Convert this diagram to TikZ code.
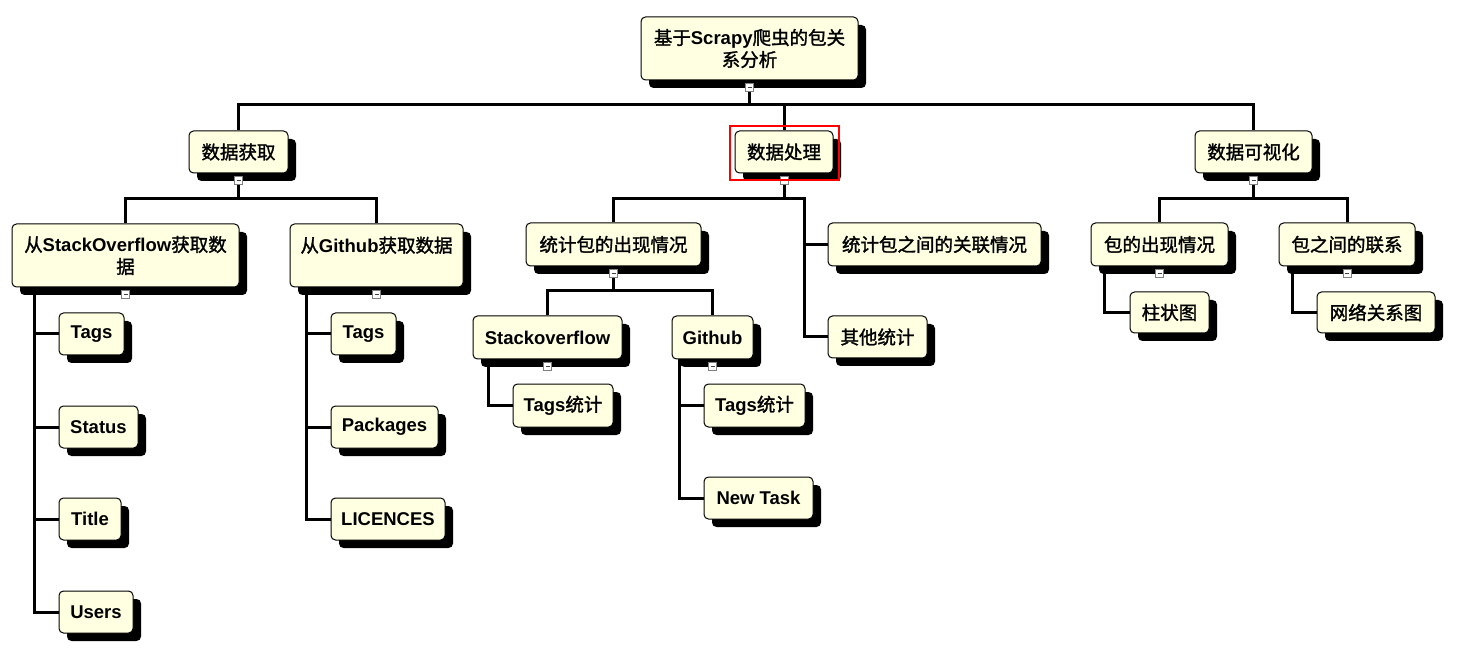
\documentclass[tikz,border=0pt]{standalone}
\usepackage{fontspec}
\setmainfont{Liberation Sans}
\newfontfamily\cjk{Noto Sans CJK SC}[FakeBold=1.5]
\usetikzlibrary{shadows}
\pgfdeclarelayer{bg}
\pgfsetlayers{bg,main}
\newcommand\zh[1]{{\cjk\mdseries #1}}
\definecolor{boxfill}{RGB}{255,255,225}
\tikzset{
  box/.style={draw=black, line width=1pt, fill=boxfill, rounded corners=4.5pt,
    inner sep=0pt, align=center, font=\fontsize{18.5}{22}\selectfont\bfseries,
    general shadow={fill=black, shadow xshift=8pt, shadow yshift=-8pt}},
  conn/.style={line width=3pt, draw=black},
  mk/.style={draw=gray, fill=white, line width=0.8pt, minimum size=8pt, inner sep=0pt,
    path picture={\draw[line width=0.9pt, black!75]
      ([xshift=2pt]path picture bounding box.west) -- ([xshift=-2pt]path picture bounding box.east);}},
  sel/.style={draw=red, line width=1.3pt}
}
\newcommand\mmnode[6]{\node[box, minimum width={(#4-#2)*1pt}, minimum height={(#5-#3)*1pt}]
  (#1) at ({(#2+#4)/2},{(#3+#5)/2}) {#6};}
\begin{document}
\begin{tikzpicture}[x=1pt,y=-1pt]
\useasboundingbox (0,0) rectangle (1465,652);
% boxes
\mmnode{root}{641}{17}{858}{80}{\zh{基于}Scrapy\zh{爬虫的包关}\\\zh{系分析}}
\mmnode{acq}{189}{131}{288}{173}{\zh{数据获取}}
\mmnode{proc}{735}{131}{833}{173}{\zh{数据处理}}
\mmnode{vis}{1195}{131}{1312}{173}{\zh{数据可视化}}
\mmnode{aso}{12}{224}{239}{287}{\zh{从}StackOverflow\zh{获取数}\\\zh{据}}
\mmnode{agh}{290}{224}{463}{287}{\zh{从}Github\zh{获取数据}\\\mbox{}}
\mmnode{sotags}{59}{313}{124}{355}{Tags}
\mmnode{sostatus}{59}{406}{138}{448}{Status}
\mmnode{sotitle}{59}{498}{121}{540}{Title}
\mmnode{sousers}{59}{591}{133}{633}{Users}
\mmnode{ghtags}{331}{313}{396}{355}{Tags}
\mmnode{ghpk}{331}{406}{438}{448}{Packages}
\mmnode{ghlic}{331}{498}{445}{540}{LICENCES}
\mmnode{occ}{526}{223}{701}{266}{\zh{统计包的出现情况}}
\mmnode{rel}{828}{223}{1041}{266}{\zh{统计包之间的关联情况}}
\mmnode{oth}{828}{316}{927}{358}{\zh{其他统计}}
\mmnode{pso}{473}{316}{622}{359}{Stackoverflow}
\mmnode{pgh}{672}{316}{753}{359}{Github}
\mmnode{psot}{513}{384}{613}{427}{Tags\zh{统计}}
\mmnode{pght}{704}{384}{805}{427}{Tags\zh{统计}}
\mmnode{pghn}{704}{477}{813}{519}{New Task}
\mmnode{vocc}{1091}{223}{1228}{266}{\zh{包的出现情况}}
\mmnode{vrel}{1279}{223}{1415}{266}{\zh{包之间的联系}}
\mmnode{bar}{1130}{292}{1209}{333}{\zh{柱状图}}
\mmnode{net}{1317}{292}{1435}{333}{\zh{网络关系图}}
% collapse markers
\node[mk] (mroot) at ([yshift=-7pt]root.south) {};
\node[mk] (macq) at ([yshift=-7pt]acq.south) {};
\node[mk] (mproc) at ([yshift=-7pt]proc.south) {};
\node[mk] (mvis) at ([yshift=-7pt]vis.south) {};
\node[mk] (maso) at ([yshift=-7pt]aso.south) {};
\node[mk] (magh) at ([yshift=-7pt]agh.south) {};
\node[mk] (mocc) at ([yshift=-7pt]occ.south) {};
\node[mk] (mpso) at ([yshift=-7pt]pso.south) {};
\node[mk] (mpgh) at ([yshift=-7pt]pgh.south) {};
\node[mk] (mvocc) at ([yshift=-7pt]vocc.south) {};
\node[mk] (mvrel) at ([yshift=-7pt]vrel.south) {};
% selection frame
\draw[sel] ([shift={(-4.5,-4.5)}]proc.north west) rectangle ([shift={(5.5,6.5)}]proc.south east);
% connectors
\coordinate (y105) at (0,105);
\coordinate (y199) at (0,199);
\coordinate (y291) at (0,291);
\coordinate (soL) at (34,287);
\coordinate (ghL) at (306,287);
\coordinate (prR) at (804,199);
\coordinate (psoL) at (488,359);
\coordinate (pghL) at (679,359);
\coordinate (voL) at (1104,266);
\coordinate (vrL) at (1292,266);
\begin{pgfonlayer}{bg}
\fill[white] (0,0) rectangle (1465,652);
\draw[conn] (mroot.center) -- (mroot |- y105) -| (acq.north);
\draw[conn] (mroot |- y105) -| (proc.north);
\draw[conn] (mroot |- y105) -| (vis.north);
\draw[conn] (macq.center) -- (macq |- y199) -| (aso.north);
\draw[conn] (macq |- y199) -| (agh.north);
\draw[conn] (soL) |- (sotags.west);
\draw[conn] (soL) |- (sostatus.west);
\draw[conn] (soL) |- (sotitle.west);
\draw[conn] (soL) |- (sousers.west);
\draw[conn] (ghL) |- (ghtags.west);
\draw[conn] (ghL) |- (ghpk.west);
\draw[conn] (ghL) |- (ghlic.west);
\draw[conn] (mproc.center) -- (mproc |- y199) -| (occ.north);
\draw[conn] (mproc |- y199) -- (prR) |- (oth.west);
\draw[conn] (prR) |- (rel.west);
\draw[conn] (mocc.center) -- (mocc |- y291) -| (pso.north);
\draw[conn] (mocc |- y291) -| (pgh.north);
\draw[conn] (psoL) |- (psot.west);
\draw[conn] (pghL) |- (pght.west);
\draw[conn] (pghL) |- (pghn.west);
\draw[conn] (mvis.center) -- (mvis |- y199) -| (vocc.north);
\draw[conn] (mvis |- y199) -| (vrel.north);
\draw[conn] (voL) |- (bar.west);
\draw[conn] (vrL) |- (net.west);
\end{pgfonlayer}
\end{tikzpicture}
\end{document}
